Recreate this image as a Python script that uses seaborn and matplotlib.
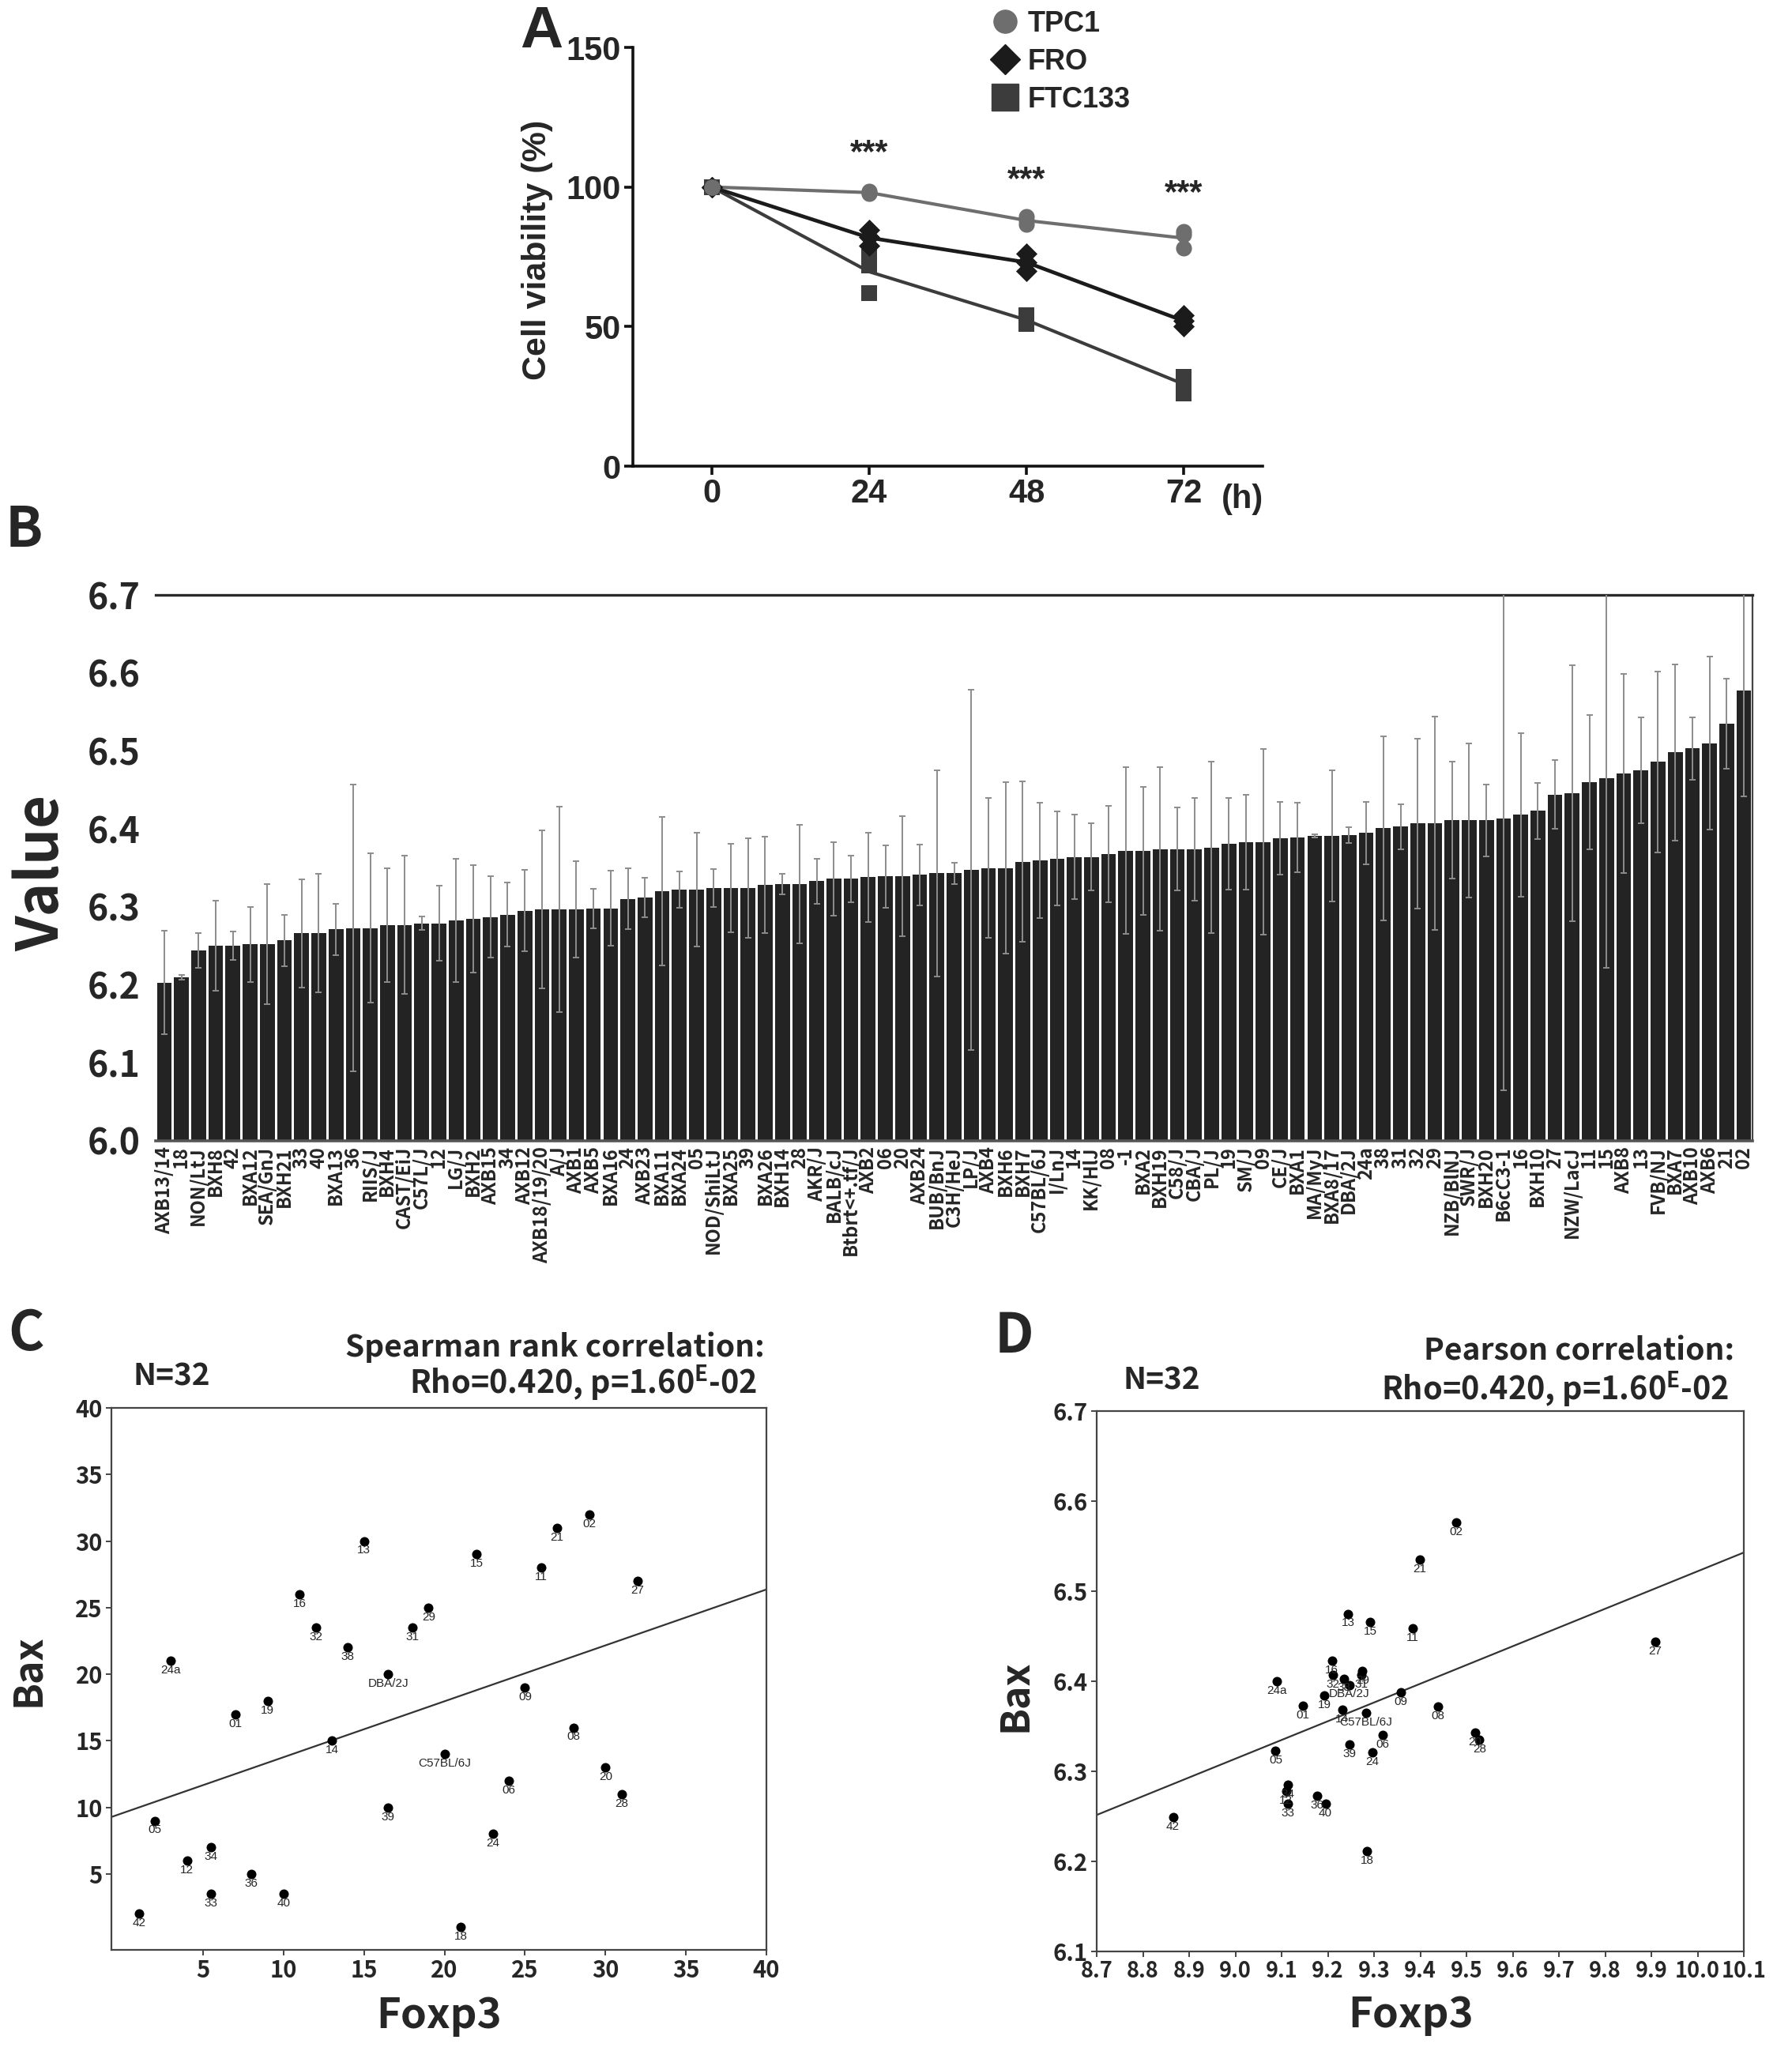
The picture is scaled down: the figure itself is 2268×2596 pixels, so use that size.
import matplotlib
matplotlib.use("Agg")
import matplotlib.pyplot as plt
from matplotlib.lines import Line2D
from matplotlib import font_manager
import pandas as pd
import seaborn as sns

# ---------------- panel A: cell viability ----------------
times = [0, 24, 48, 72]
rep_time = [0, 0, 0, 24, 24, 24, 48, 48, 48, 72, 72, 72]
tpc1 = [100, 100, 100, 98.5, 98.0, 97.5, 89.5, 88.0, 86.5, 84.0, 83.0, 78.0]
fro = [100, 100, 100, 84.5, 82.0, 79.0, 76.0, 73.0, 70.0, 54.0, 52.0, 50.0]
ftc133 = [100, 100, 100, 75.0, 72.0, 62.0, 54.0, 52.0, 51.0, 32.0, 30.0, 26.0]
star_y = [112, 102.5, 97.5]

# ---------------- panel B: Bax expression per strain ----------------
strains = ["AXB13/14", "18", "NON/LtJ", "BXH8", "42", "BXA12", "SEA/GnJ", "BXH21", "33", "40",
           "BXA13", "36", "RIIS/J", "BXH4", "CAST/EiJ", "C57L/J", "12", "LG/J", "BXH2", "AXB15",
           "34", "AXB12", "AXB18/19/20", "A/J", "AXB1", "AXB5", "BXA16", "24", "AXB23", "BXA11",
           "BXA24", "05", "NOD/ShiLtJ", "BXA25", "39", "BXA26", "BXH14", "28", "AKR/J", "BALB/cJ",
           "Btbrt<+.tf/J", "AXB2", "06", "20", "AXB24", "BUB/BnJ", "C3H/HeJ", "LP/J", "AXB4", "BXH6",
           "BXH7", "C57BL/6J", "I/LnJ", "14", "KK/HlJ", "08", "-1", "BXA2", "BXH19", "C58/J",
           "CBA/J", "PL/J", "19", "SM/J", "09", "CE/J", "BXA1", "MA/MyJ", "BXA8/17", "DBA/2J",
           "24a", "38", "31", "32", "29", "NZB/BlNJ", "SWR/J", "BXH20", "B6cC3-1", "16",
           "BXH10", "27", "NZW/LacJ", "11", "15", "AXB8", "13", "FVB/NJ", "BXA7", "AXB10",
           "AXB6", "21", "02"]
bax_mean = [6.203, 6.210, 6.244, 6.250, 6.250, 6.252, 6.252, 6.257, 6.266, 6.266,
            6.271, 6.273, 6.273, 6.277, 6.277, 6.279, 6.279, 6.283, 6.285, 6.287,
            6.290, 6.295, 6.297, 6.297, 6.297, 6.298, 6.298, 6.310, 6.312, 6.320,
            6.322, 6.322, 6.324, 6.324, 6.324, 6.328, 6.329, 6.329, 6.333, 6.336,
            6.336, 6.338, 6.339, 6.339, 6.341, 6.343, 6.343, 6.347, 6.350, 6.350,
            6.358, 6.360, 6.362, 6.364, 6.364, 6.368, 6.372, 6.372, 6.374, 6.374,
            6.374, 6.376, 6.381, 6.383, 6.383, 6.388, 6.389, 6.391, 6.391, 6.392,
            6.395, 6.401, 6.403, 6.407, 6.407, 6.411, 6.411, 6.411, 6.413, 6.418,
            6.423, 6.444, 6.446, 6.460, 6.465, 6.471, 6.475, 6.486, 6.498, 6.503,
            6.510, 6.535, 6.577]
bax_sd = [0.066, 0.003, 0.022, 0.058, 0.018, 0.048, 0.077, 0.033, 0.069, 0.076,
          0.033, 0.184, 0.096, 0.073, 0.089, 0.009, 0.048, 0.079, 0.069, 0.052,
          0.041, 0.052, 0.101, 0.132, 0.062, 0.025, 0.048, 0.039, 0.025, 0.095,
          0.023, 0.073, 0.024, 0.057, 0.064, 0.062, 0.013, 0.076, 0.029, 0.047,
          0.030, 0.057, 0.040, 0.077, 0.039, 0.132, 0.014, 0.231, 0.090, 0.110,
          0.103, 0.074, 0.060, 0.054, 0.043, 0.062, 0.107, 0.082, 0.105, 0.053,
          0.066, 0.110, 0.059, 0.061, 0.119, 0.047, 0.045, 0.002, 0.084, 0.010,
          0.040, 0.118, 0.029, 0.109, 0.137, 0.075, 0.099, 0.046, 0.348, 0.105,
          0.036, 0.044, 0.164, 0.086, 0.243, 0.128, 0.068, 0.116, 0.113, 0.040,
          0.111, 0.058, 0.135]

# ---------------- panels C / D: Foxp3 vs Bax ----------------
cd_strains = ["42", "05", "24a", "12", "34", "33", "01", "36", "19", "40", "16", "32", "14",
              "38", "13", "DBA/2J", "39", "31", "29", "C57BL/6J", "18", "15", "24", "06", "09",
              "11", "21", "08", "02", "20", "28", "27"]
foxp3 = [8.865, 9.087, 9.089, 9.110, 9.114, 9.114, 9.146, 9.177, 9.193, 9.195, 9.209, 9.211,
         9.231, 9.235, 9.244, 9.247, 9.247, 9.273, 9.275, 9.283, 9.285, 9.292, 9.296, 9.318,
         9.358, 9.384, 9.399, 9.439, 9.477, 9.518, 9.528, 9.908]
bax = [6.249, 6.323, 6.400, 6.278, 6.285, 6.264, 6.373, 6.273, 6.384, 6.264, 6.423, 6.407,
       6.368, 6.403, 6.475, 6.396, 6.330, 6.407, 6.411, 6.365, 6.211, 6.466, 6.321, 6.340,
       6.388, 6.459, 6.535, 6.372, 6.576, 6.343, 6.335, 6.444]
foxp3_rank = [1, 2, 3, 4, 5.5, 5.5, 7, 8, 9, 10, 11, 12, 13, 14, 15, 16.5, 16.5, 18, 19, 20,
              21, 22, 23, 24, 25, 26, 27, 28, 29, 30, 31, 32]
bax_rank = [2, 9, 21, 6, 7, 3.5, 17, 5, 18, 3.5, 26, 23.5, 15, 22, 30, 20, 10, 23.5, 25, 14,
            1, 29, 8, 12, 19, 28, 31, 16, 32, 13, 11, 27]

sns.set_theme(style="ticks")
avail = {f.name for f in font_manager.fontManager.ttflist}
NARROW = "Liberation Sans Narrow" if "Liberation Sans Narrow" in avail else "Liberation Sans"
KR = "Noto Sans CJK KR"
plt.rcParams["font.family"] = [KR, "DejaVu Sans"]
plt.rcParams["font.weight"] = "bold"
plt.rcParams["mathtext.fontset"] = "custom"
plt.rcParams["mathtext.bf"] = "Noto Sans CJK KR:bold"
plt.rcParams["mathtext.rm"] = "Noto Sans CJK KR:bold"

W, H = 2268, 2596
fig = plt.figure(figsize=(W / 100, H / 100), dpi=100)


def fx(px):
    return px / W


def fy(py):
    return 1 - py / H


# ---- A ----
axA = fig.add_axes([fx(801), fy(590), fx(1598 - 801), (590 - 60) / H])
dfa = pd.DataFrame({
    "time": rep_time * 3,
    "viability": tpc1 + fro + ftc133,
    "line": ["TPC1"] * 12 + ["FRO"] * 12 + ["FTC133"] * 12,
})
pal = {"TPC1": "#6e6e6e", "FRO": "#1b1b1b", "FTC133": "#3c3c3c"}
line_w = {"TPC1": 3.0, "FRO": 3.4, "FTC133": 3.0}
markers = {"TPC1": ("o", 210), "FRO": ("D", 190), "FTC133": ("s", 200)}
for name in ["FTC133", "FRO", "TPC1"]:
    sub = dfa[dfa["line"] == name]
    sns.lineplot(data=sub, x="time", y="viability", estimator="mean", errorbar=None,
                 color=pal[name], linewidth=line_w[name], ax=axA, zorder=2)
for name in ["FTC133", "FRO", "TPC1"]:
    sub = dfa[dfa["line"] == name]
    mk, s = markers[name]
    sns.scatterplot(data=sub, x="time", y="viability", color=pal[name], marker=mk, s=s,
                    linewidth=0, ax=axA, zorder=3, legend=False)
axA.set_xlim(-12, 84)
axA.set_ylim(0, 150)
axA.set_xticks(times)
axA.set_yticks([0, 50, 100, 150])
axA.set_xlabel("")
axA.set_ylabel("Cell viability (%)", fontsize=31, fontweight="bold", family="Liberation Sans")
axA.yaxis.label.set_va("center")
axA.yaxis.set_label_coords(-0.152, 0.517)
sns.despine(ax=axA)
for sp in ["left", "bottom"]:
    axA.spines[sp].set_linewidth(2.6)
    axA.spines[sp].set_color("#111111")
axA.tick_params(width=2.6, length=8, labelsize=30, color="#111111", pad=3)
for lbl in axA.get_xticklabels() + axA.get_yticklabels():
    lbl.set_family(NARROW)
    lbl.set_fontweight("bold")
for t, y in zip(times[1:], star_y):
    axA.text(t, y, "***", ha="center", va="center", fontsize=30, fontweight="bold",
             family="Liberation Sans")
fig.text(fx(1573), fy(632), "(h)", ha="center", va="center", fontsize=30,
         fontweight="bold", family=NARROW)
handles = [Line2D([], [], ls="", marker="o", markersize=21, color=pal["TPC1"]),
           Line2D([], [], ls="", marker="D", markersize=19, color=pal["FRO"]),
           Line2D([], [], ls="", marker="s", markersize=25, color=pal["FTC133"])]
leg = fig.legend(handles, ["TPC1", "FRO", "FTC133"], loc="upper left",
                 bbox_to_anchor=(fx(1236), fy(-5)), frameon=False, handlelength=1.0,
                 handletextpad=0.3, labelspacing=0.36, borderpad=0,
                 prop={"family": NARROW, "weight": "bold", "size": 26})

# ---- B ----
axB = fig.add_axes([fx(197), fy(1444), fx(2218 - 197), (1444 - 753) / H])
dfb = pd.DataFrame({"strain": strains, "value": bax_mean, "sd": bax_sd})
sns.barplot(data=dfb, x="strain", y="value", order=strains, color="#232323", saturation=1,
            width=0.86, errorbar=None, edgecolor="none", ax=axB)
xs = axB.get_xticks()
axB.errorbar(xs, dfb["value"], yerr=dfb["sd"], fmt="none", ecolor="#8c8c8c",
             elinewidth=1.4, capsize=2.6, capthick=1.4, zorder=3)
axB.set_ylim(6.0, 6.7)
axB.set_xlim(-0.5, len(strains) - 0.5)
axB.set_yticks([6.0, 6.1, 6.2, 6.3, 6.4, 6.5, 6.6, 6.7])
axB.set_yticklabels(["6.0", "6.1", "6.2", "6.3", "6.4", "6.5", "6.6", "6.7"])
axB.set_xlabel("")
axB.set_ylabel("Value", fontsize=52, fontweight="bold")
axB.yaxis.label.set_va("center")
axB.yaxis.set_label_coords(-0.071, 0.49)
axB.spines["left"].set_visible(False)
axB.spines["top"].set_linewidth(2.4)
axB.spines["top"].set_color("#2a2a2a")
axB.spines["right"].set_linewidth(1.6)
axB.spines["right"].set_color("#444444")
axB.spines["bottom"].set_linewidth(2.6)
axB.spines["bottom"].set_color("#555555")
axB.tick_params(axis="y", length=0, labelsize=32, pad=14)
axB.tick_params(axis="x", length=0, labelsize=17, rotation=90, pad=5)

# ---- C ----
axC = fig.add_axes([fx(141), fy(2468), fx(970 - 141), (2468 - 1782) / H])
axC.set_xlim(-0.7, 40)
axC.set_ylim(-0.7, 40)
sns.regplot(x=foxp3_rank, y=bax_rank, scatter=False, ci=None, truncate=False,
            line_kws={"color": "#333333", "lw": 1.6}, ax=axC)
sns.scatterplot(x=foxp3_rank, y=bax_rank, color="black", s=75, linewidth=0, ax=axC, zorder=3)
for name, xv, yv in zip(cd_strains, foxp3_rank, bax_rank):
    axC.annotate(name, (xv, yv), xytext=(0, -3.5), textcoords="offset points", ha="center",
                 va="top", fontsize=11, fontweight="normal", family="Liberation Sans")
axC.set_xlim(-0.7, 40)
axC.set_ylim(-0.7, 40)
axC.set_xticks([5, 10, 15, 20, 25, 30, 35, 40])
axC.set_yticks([5, 10, 15, 20, 25, 30, 35, 40])

# ---- D ----
axD = fig.add_axes([fx(1388), fy(2470), fx(2207 - 1388), (2470 - 1786) / H])
axD.set_xlim(8.7, 10.1)
axD.set_ylim(6.1, 6.7)
sns.regplot(x=foxp3, y=bax, scatter=False, ci=None, truncate=False,
            line_kws={"color": "#333333", "lw": 1.6}, ax=axD)
sns.scatterplot(x=foxp3, y=bax, color="black", s=75, linewidth=0, ax=axD, zorder=3)
for name, xv, yv in zip(cd_strains, foxp3, bax):
    axD.annotate(name, (xv, yv), xytext=(0, -3.5), textcoords="offset points", ha="center",
                 va="top", fontsize=11, fontweight="normal", family="Liberation Sans")
axD.set_xlim(8.7, 10.1)
axD.set_ylim(6.1, 6.7)
dx_ticks = [8.7, 8.8, 8.9, 9.0, 9.1, 9.2, 9.3, 9.4, 9.5, 9.6, 9.7, 9.8, 9.9, 10.0, 10.1]
axD.set_xticks(dx_ticks)
axD.set_xticklabels([f"{v:.1f}" for v in dx_ticks])
axD.set_yticks([6.1, 6.2, 6.3, 6.4, 6.5, 6.6, 6.7])
axD.set_yticklabels(["6.1", "6.2", "6.3", "6.4", "6.5", "6.6", "6.7"])

for ax in (axC, axD):
    for sp in ax.spines.values():
        sp.set_linewidth(1.6)
        sp.set_color("#444444")
    ax.tick_params(length=5, width=1.4, labelsize=21, pad=3, color="#444444")
    ax.set_xlabel("Foxp3", fontsize=38, fontweight="bold")
    ax.set_ylabel("Bax", fontsize=36, fontweight="bold")
    ax.xaxis.label.set_va("center")
    ax.yaxis.label.set_va("center")
axD.tick_params(axis="x", labelsize=19.5)
axC.xaxis.set_label_coords(0.5, -0.121)
axC.yaxis.set_label_coords(-0.127, 0.516)
axD.xaxis.set_label_coords(0.485, -0.118)
axD.yaxis.set_label_coords(-0.126, 0.474)

# panel texts
fig.text(fx(217), fy(1742), "N=32", ha="center", va="center", fontsize=28)
fig.text(fx(968), fy(1705), "Spearman rank correlation:", ha="right", va="center", fontsize=28)
fig.text(fx(958), fy(1750), "Rho=0.420, p=1.60$^{\\mathbf{E}}$-02", ha="right", va="center",
         fontsize=28.5)
fig.text(fx(1470), fy(1747), "N=32", ha="center", va="center", fontsize=28)
fig.text(fx(2195), fy(1710), "Pearson correlation:", ha="right", va="center", fontsize=28)
fig.text(fx(2188), fy(1758), "Rho=0.420, p=1.60$^{\\mathbf{E}}$-02", ha="right", va="center",
         fontsize=28.5)

# panel letters
fig.text(fx(685), fy(41), "A", ha="center", va="center", fontsize=54, family=NARROW,
         fontweight="bold")
fig.text(fx(30), fy(672), "B", ha="center", va="center", fontsize=50)
fig.text(fx(33), fy(1689), "C", ha="center", va="center", fontsize=50)
fig.text(fx(1283), fy(1692), "D", ha="center", va="center", fontsize=50)

fig.savefig("out.png", dpi=100)
